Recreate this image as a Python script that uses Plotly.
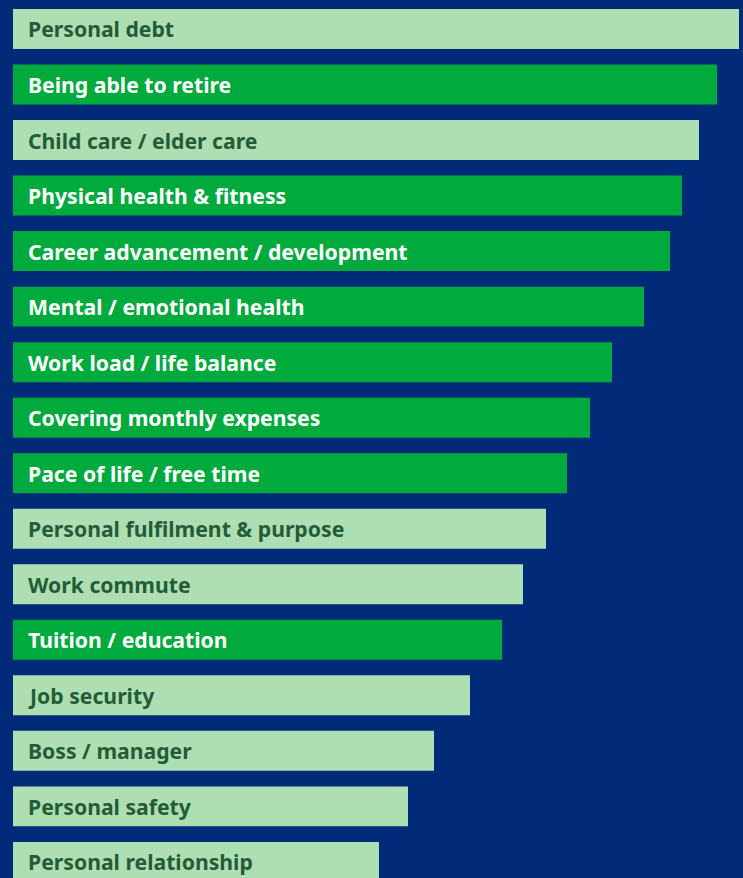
import plotly.graph_objects as go

categories = [
    "Personal debt", "Being able to retire", "Child care / elder care",
    "Physical health & fitness", "Career advancement / development",
    "Mental / emotional health", "Work load / life balance",
    "Covering monthly expenses", "Pace of life / free time",
    "Personal fulfilment & purpose", "Work commute", "Tuition / education",
    "Job security", "Boss / manager", "Personal safety", "Personal relationship",
]
values = [726, 704, 686, 669, 657, 631, 599, 577, 554, 533, 510, 489, 457, 421, 395, 366]
highlight = [False, True, False, True, True, True, True, True, True,
             False, False, True, False, False, False, False]

LIGHT = "#addfb3"
GREEN = "#00aa3d"
BG = "#012b78"
DARK_TXT = "#235c37"

colors = [GREEN if h else LIGHT for h in highlight]

fig = go.Figure(go.Bar(
    x=values, y=categories, orientation="h",
    marker=dict(color=colors, line=dict(width=0)),
    hoverinfo="skip",
))

for c, h in zip(categories, highlight):
    fig.add_annotation(
        x=0, y=c, xref="x", yref="y", text=c, showarrow=False,
        xanchor="left", xshift=13, yshift=0,
        font=dict(family="Noto Sans", size=21.2, color="white" if h else DARK_TXT, weight="bold"),
    )

fig.update_layout(
    width=743, height=878,
    margin=dict(l=13, r=4, t=0, b=0),
    paper_bgcolor=BG, plot_bgcolor=BG,
    bargap=0.28, showlegend=False,
    xaxis=dict(range=[0, 726], visible=False, fixedrange=True),
    yaxis=dict(range=[15.29, -0.522], visible=False, categoryorder="array",
               categoryarray=categories, fixedrange=True),
)

fig.write_html(
    "out.html",
    config={"displayModeBar": False},
    post_script="document.body.style.margin='0';document.body.style.overflow='hidden';",
)
